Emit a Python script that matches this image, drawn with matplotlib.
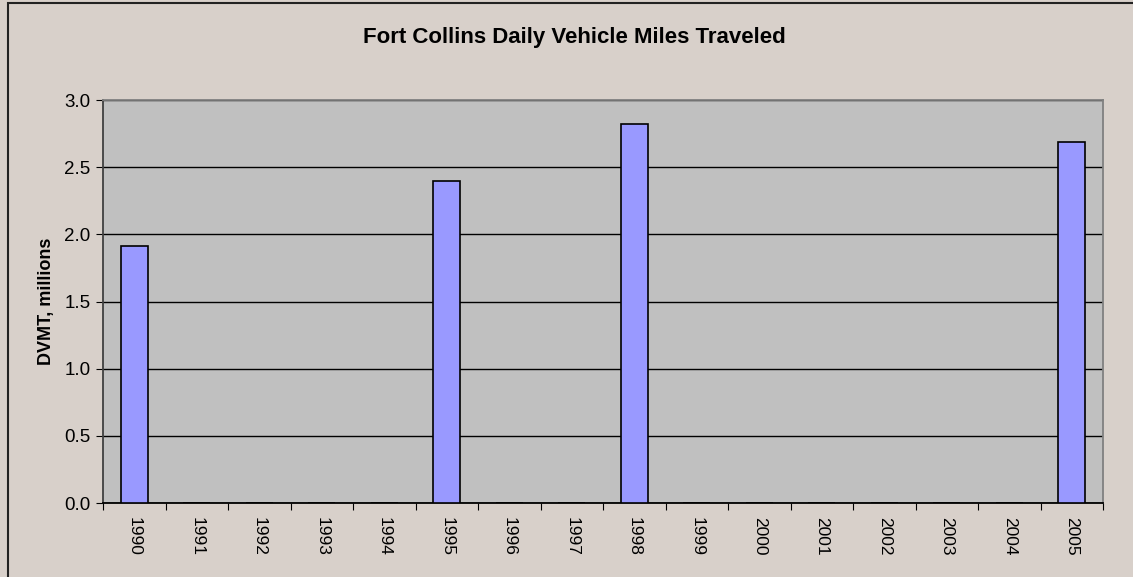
import matplotlib.pyplot as plt
from matplotlib.patches import Rectangle

years = [str(y) for y in range(1990, 2006)]
dvmt = [1.91, 0, 0, 0, 0, 2.40, 0, 0, 2.82, 0, 0, 0, 0, 0, 0, 2.69]
yticks = [0.0, 0.5, 1.0, 1.5, 2.0, 2.5, 3.0]

plt.rcParams['font.family'] = ['Liberation Sans', 'DejaVu Sans']

W, H = 1133, 577
fig = plt.figure(figsize=(W / 100, H / 100), dpi=100)
fig.patch.set_facecolor('#D8D0CA')
fig.patches.append(Rectangle((8 / W, -0.05), 1.1, (H - 3) / H + 0.05,
                             transform=fig.transFigure, fill=False,
                             edgecolor='#222222', linewidth=1.5))

ax = fig.add_axes([103 / W, (H - 503) / H, 1000 / W, 403 / H])
ax.set_facecolor('#C0C0C0')

x = list(range(len(years)))
ax.bar(x, dvmt, width=0.43, color='#9999FF', edgecolor='black',
       linewidth=1.2, zorder=3)

ax.set_xlim(-0.5, len(years) - 0.5)
ax.set_ylim(0, 3.0)
ax.set_yticks(yticks)
ax.set_yticklabels([f'{t:.1f}' for t in yticks], fontsize=13.5)
ax.yaxis.grid(True, color='black', linewidth=1.0, zorder=1)

# ticks on category boundaries, labels at centres
ax.set_xticks([i - 0.5 for i in range(len(years) + 1)])
ax.set_xticklabels([])
ax.set_xticks(x, minor=True)
ax.set_xticklabels(years, minor=True, rotation=270, fontsize=12.5)
ax.tick_params(axis='x', which='major', length=5, direction='out', color='black')
ax.tick_params(axis='x', which='minor', length=0, pad=10)
ax.tick_params(axis='y', length=5, direction='out', color='black', pad=4)

ax.spines['top'].set_color('#808080')
ax.spines['right'].set_color('#808080')
ax.spines['left'].set_color('#404040')
ax.spines['bottom'].set_color('black')
for s in ax.spines.values():
    s.set_linewidth(1.3)
ax.set_axisbelow(True)

ax.set_ylabel('DVMT, millions', fontsize=13, fontweight='bold', labelpad=7)
fig.text(574 / W, 1 - 37 / H, 'Fort Collins Daily Vehicle Miles Traveled',
         ha='center', va='center', fontsize=16, fontweight='bold')

fig.savefig('out.png', dpi=100, facecolor=fig.get_facecolor())
